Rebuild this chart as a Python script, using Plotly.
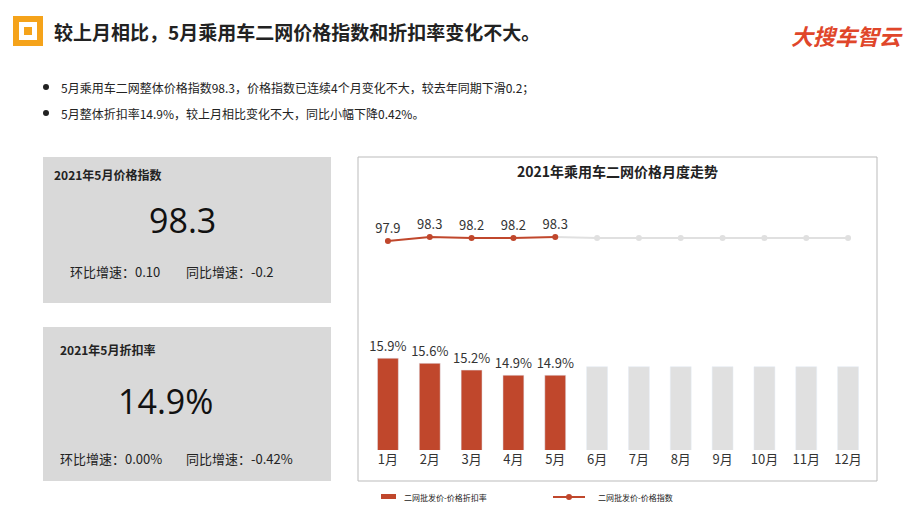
import plotly.graph_objects as go

months = ['1月', '2月', '3月', '4月', '5月', '6月', '7月', '8月', '9月', '10月', '11月', '12月']
index_months = ['1月', '2月', '3月', '4月', '5月']
price_index = [97.9, 98.3, 98.2, 98.2, 98.3]
future_months = ['6月', '7月', '8月', '9月', '10月', '11月', '12月']
future_index = [98.2, 98.2, 98.2, 98.2, 98.2, 98.2, 98.2]
discount = [15.9, 15.6, 15.2, 14.9, 14.9]
future_discount = [15.4, 15.4, 15.4, 15.4, 15.4, 15.4, 15.4]

W, H = 920, 518
OFF = 8  # page body margin
def px(x): return (x - OFF) / W
def py(y): return 1 - (y - OFF) / H

RED = '#c0472c'
GRAY = '#e0e0e0'
FONT = 'Noto Sans CJK SC'

fig = go.Figure()
fig.add_trace(go.Bar(x=index_months, y=discount, marker_color=RED, width=0.5,
                     text=[f'{v}%' for v in discount], textposition='outside',
                     textfont=dict(size=13, color='#333'), cliponaxis=False, constraintext='none',
                     xaxis='x', yaxis='y', showlegend=False))
fig.add_trace(go.Bar(x=future_months, y=future_discount, marker_color=GRAY, width=0.5,
                     xaxis='x', yaxis='y', showlegend=False, hoverinfo='skip'))
fig.add_trace(go.Scatter(x=future_months, y=future_index, mode='lines+markers',
                         line=dict(color=GRAY, width=2), marker=dict(size=6, color=GRAY),
                         xaxis='x2', yaxis='y2', showlegend=False))
fig.add_trace(go.Scatter(x=['5月', '6月'], y=[price_index[-1], future_index[0]], mode='lines',
                         line=dict(color=GRAY, width=2), xaxis='x2', yaxis='y2', showlegend=False))
fig.add_trace(go.Scatter(x=index_months, y=price_index, mode='lines+markers+text',
                         line=dict(color=RED, width=2), marker=dict(size=6, color=RED),
                         text=[str(v) for v in price_index], textposition='top center',
                         textfont=dict(size=13, color='#333'), cliponaxis=False,
                         xaxis='x2', yaxis='y2', showlegend=False))

xdom = [px(367), px(869)]
fig.update_layout(
    width=W, height=H, margin=dict(l=0, r=0, t=0, b=0),
    paper_bgcolor='white', plot_bgcolor='rgba(0,0,0,0)',
    font=dict(family=FONT, color='#222'), barmode='overlay',
    xaxis=dict(domain=xdom, categoryorder='array', categoryarray=months, range=[-0.5, 11.5],
               showgrid=False, showline=False, tickfont=dict(size=13, color='#333'), ticks=''),
    yaxis=dict(domain=[py(450), py(348)], range=[10.5, 16.5], visible=False),
    xaxis2=dict(domain=xdom, anchor='y2', categoryorder='array', categoryarray=months,
                range=[-0.5, 11.5], visible=False),
    yaxis2=dict(domain=[py(270), py(210)], range=[95, 101], visible=False),
)

def rect(x0, y0, x1, y1, **kw):
    return dict(type='rect', xref='paper', yref='paper', x0=px(x0), x1=px(x1), y0=py(y1), y1=py(y0), **kw)

shapes = [
    rect(43, 157, 331, 303, fillcolor='#d9d9d9', line_width=0, layer='below'),
    rect(43, 327, 331, 481, fillcolor='#d9d9d9', line_width=0, layer='below'),
    rect(358, 157, 877, 481, fillcolor='rgba(0,0,0,0)', line=dict(color='#bbbbbb', width=1)),
    rect(13, 16, 43, 46, fillcolor='#f5a31a', line_width=0),
    rect(19, 22, 37, 40, fillcolor='white', line_width=0),
    rect(24, 27, 32, 35, fillcolor='#f5a31a', line_width=0),
    dict(type='circle', xref='paper', yref='paper', x0=px(43), x1=px(49), y0=py(90), y1=py(84),
         fillcolor='#222', line_width=0),
    dict(type='circle', xref='paper', yref='paper', x0=px(43), x1=px(49), y0=py(116), y1=py(110),
         fillcolor='#222', line_width=0),
    rect(381, 494, 396, 499, fillcolor=RED, line_width=0),
    dict(type='line', xref='paper', yref='paper', x0=px(553), x1=px(585), y0=py(497), y1=py(497),
         line=dict(color=RED, width=2)),
    dict(type='circle', xref='paper', yref='paper', x0=px(566), x1=px(572), y0=py(500), y1=py(494),
         fillcolor=RED, line_width=0),
]
fig.update_layout(shapes=shapes)

def txt(x, y, s, size, color='#222', bold=False, anchor='left', family=FONT):
    if bold:
        s = f'<b>{s}</b>'
    fig.add_annotation(x=px(x), y=py(y), xref='paper', yref='paper', text=s, showarrow=False,
                       xanchor=anchor, yanchor='middle', font=dict(size=size, color=color, family=family))

txt(52, 31, '较上月相比，5月乘用车二网价格指数和折扣率变化不大。', 19, bold=True)
txt(905, 35, '<i>大搜车智云</i>', 22, color='#e0462a', bold=True, anchor='right')
txt(59, 87, '5月乘用车二网整体价格指数98.3，价格指数已连续4个月变化不大，较去年同期下滑0.2；', 12)
txt(59, 113, '5月整体折扣率14.9%，较上月相比变化不大，同比小幅下降0.42%。', 12)
txt(52, 174, '2021年5月价格指数', 12, bold=True)
txt(182, 220, '98.3', 34, color='#111', anchor='center', family='Open Sans')
txt(68, 271, '环比增速：0.10', 13)
txt(184, 271, '同比增速：-0.2', 13)
txt(58, 349, '2021年5月折扣率', 12, bold=True)
txt(165, 401, '14.9%', 34, color='#111', anchor='center', family='Open Sans')
txt(58, 458, '环比增速：0.00%', 13)
txt(184, 458, '同比增速：-0.42%', 13)
txt(617, 171, '2021年乘用车二网价格月度走势', 14, bold=True, anchor='center')
txt(402, 497, '二网批发价-价格折扣率', 8)
txt(596, 497, '二网批发价-价格指数', 8)

fig.write_html('out.html')
